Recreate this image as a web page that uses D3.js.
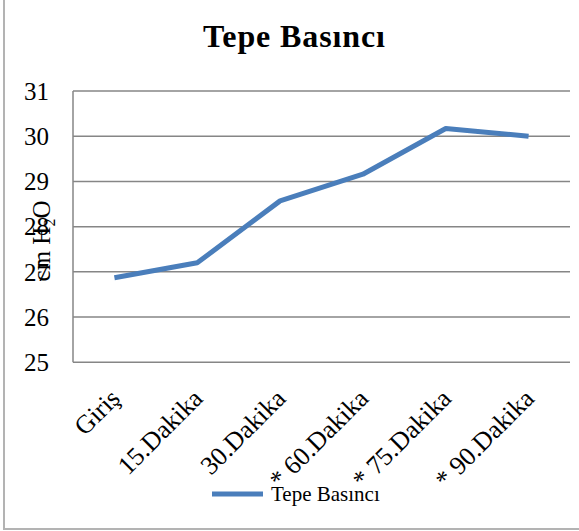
<!DOCTYPE html>
<html><head><meta charset="utf-8">
<script src="https://cdn.jsdelivr.net/npm/d3@7"></script>
<style>body{margin:0;background:#fff}svg{display:block}text{font-family:"Liberation Serif","Times New Roman",serif;fill:#000}</style>
</head><body>
<svg id="c" width="579" height="531"></svg>
<script>
const categories = ["Giriş","15.Dakika","30.Dakika","* 60.Dakika","* 75.Dakika","* 90.Dakika"];
const values = [26.87, 27.2, 28.57, 29.16, 30.17, 30.0];
const yTicks = [25,26,27,28,29,30,31];
const seriesName = "Tepe Basıncı";
const title = "Tepe Basıncı";

const svg = d3.select("#c");
// outer border
svg.append("rect").attr("x",4).attr("y",-5).attr("width",590).attr("height",534)
  .attr("fill","none").attr("stroke","#b3b3b3").attr("stroke-width",2);

const L=73, R=570, T=91, B=362.3;
const x = d3.scaleBand().domain(categories).range([L,R]);
const y = d3.scaleLinear().domain([25,31]).range([B,T]);

// gridlines
svg.append("g").selectAll("line").data(yTicks).join("line")
  .attr("x1",L).attr("x2",R).attr("y1",d=>y(d)).attr("y2",d=>y(d))
  .attr("stroke","#868686").attr("stroke-width",1.5);
// left axis line
svg.append("line").attr("x1",L).attr("x2",L).attr("y1",T).attr("y2",B)
  .attr("stroke","#868686").attr("stroke-width",1.5);

// y tick labels
const yAxis = d3.axisLeft(y).tickValues(yTicks).tickFormat(d3.format("d")).tickSize(0).tickPadding(0);
const ga = svg.append("g").attr("transform",`translate(49,0)`).call(yAxis);
ga.select(".domain").remove();
ga.attr("font-size",null).attr("font-family",null);
ga.selectAll("text").attr("font-size",25).attr("fill","#000").attr("dy","0.33em");

// x labels
svg.append("g").selectAll("text").data(categories).join("text")
  .attr("transform",d=>`translate(${x(d)+x.bandwidth()/2+7},400) rotate(-45)`)
  .attr("text-anchor","end").attr("font-size",26).text(d=>d);

// y title
const yt = svg.append("text").attr("transform","translate(50,241) rotate(-90)")
  .attr("text-anchor","middle").attr("font-size",25);
yt.append("tspan").text("cm H");
yt.append("tspan").attr("font-size",16).attr("dy",5).text("2");
yt.append("tspan").attr("dy",-5).text("O");

// line
const line = d3.line().x((d,i)=>x(categories[i])+x.bandwidth()/2).y(d=>y(d));
svg.append("path").datum(values).attr("d",line).attr("fill","none")
  .attr("stroke","#4a7ebb").attr("stroke-width",5).attr("stroke-linejoin","round");

// title
svg.append("text").attr("x",294).attr("y",47).attr("text-anchor","middle")
  .attr("font-size",32).attr("font-weight","bold")
  .attr("textLength",182).attr("lengthAdjust","spacing").text(title);

// legend
svg.append("line").attr("x1",212).attr("x2",263).attr("y1",494).attr("y2",494)
  .attr("stroke","#4a7ebb").attr("stroke-width",5);
svg.append("text").attr("x",271).attr("y",501).attr("font-size",21).text(seriesName);
</script>
</body></html>
